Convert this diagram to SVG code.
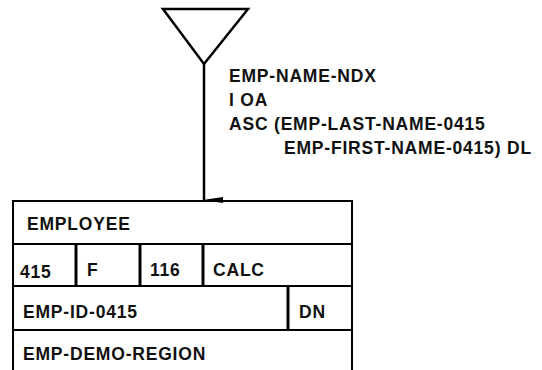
<svg xmlns="http://www.w3.org/2000/svg" width="542" height="370" viewBox="0 0 542 370">
<style>
text{font-family:"Liberation Sans",Arial,sans-serif;font-size:17.5px;font-weight:bold;letter-spacing:0.8px;fill:#111}
.ln{stroke:#000;stroke-width:2;fill:none}
.thk{stroke:#000;stroke-width:3;fill:none}
</style>
<defs>
<marker id="ah" markerWidth="8" markerHeight="20" refX="3" refY="19" orient="auto" markerUnits="userSpaceOnUse" viewBox="0 0 6 20">
<path d="M0,0 L6,0 L3,20 Z" fill="#000"/>
</marker>
</defs>
<rect width="542" height="370" fill="#fff"/>
<g id="index">
<polygon points="163,9 248,9 204,64" fill="none" stroke="#000" stroke-width="2.5"/>
<text x="229" y="82">EMP-NAME-NDX</text>
<text x="229" y="106">I OA</text>
<text x="229" y="130">ASC (EMP-LAST-NAME-0415</text>
<text x="284" y="154">EMP-FIRST-NAME-0415) DL</text>
</g>
<g id="connectors">
<line x1="204" y1="64" x2="204" y2="200" stroke="#000" stroke-width="2.5" marker-end="url(#ah)"/>
</g>
<g id="employee">
<path class="ln" d="M13,370 V201 H352 V370"/>
<line class="ln" x1="13" y1="244" x2="352" y2="244"/>
<line class="ln" x1="13" y1="286" x2="352" y2="286"/>
<line class="ln" x1="13" y1="330" x2="352" y2="330"/>
<line class="thk" x1="76" y1="244" x2="76" y2="286"/>
<line class="thk" x1="140" y1="244" x2="140" y2="286"/>
<line class="thk" x1="203" y1="244" x2="203" y2="286"/>
<line class="thk" x1="288" y1="286" x2="288" y2="330"/>
<text x="27" y="230">EMPLOYEE</text>
<text x="20" y="278">415</text>
<text x="87" y="276">F</text>
<text x="150" y="276">116</text>
<text x="213" y="276">CALC</text>
<text x="23" y="318">EMP-ID-0415</text>
<text x="299" y="318">DN</text>
<text x="23" y="360">EMP-DEMO-REGION</text>
</g>
</svg>
